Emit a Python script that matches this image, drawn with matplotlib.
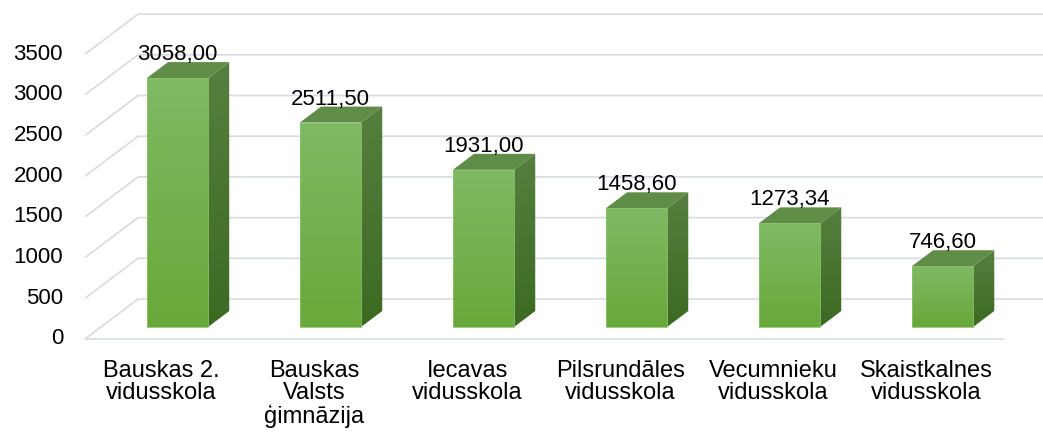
import numpy as np
import matplotlib
matplotlib.use("Agg")
from matplotlib import pyplot as plt
from matplotlib.patches import Polygon
from matplotlib.colors import LinearSegmentedColormap

plt.rcParams['font.family'] = ['Liberation Sans', 'DejaVu Sans']

# data
skolas  = ['Bauskas 2.\nvidusskola', 'Bauskas\nValsts\nģimnāzija', 'Iecavas\nvidusskola',
           'Pilsrundāles\nvidusskola', 'Vecumnieku\nvidusskola', 'Skaistkalnes\nvidusskola']
vertibas = [3058.00, 2511.50, 1931.00, 1458.60, 1273.34, 746.60]
y_ticks  = [0, 500, 1000, 1500, 2000, 2500, 3000, 3500]

# 3d look (depth offset of the back wall, in data units)
DX, DY   = 0.3464, 491.0
T_FRONT  = 0.3
T_BACK   = 0.7
BAR_W    = 0.4
grid_c   = '#d9dbe4'

fig = plt.figure(figsize=(10.43, 4.33), dpi=100)
ax = fig.add_axes([0, 0, 1, 1])
ax.set_axis_off()

xmin, xmax = -1.0556, 5.761
ymin, ymax = -1154.8, 4164.6

# gridlines: side wall diagonal + back wall horizontal
for v in y_ticks:
    ax.plot([-0.5, -0.5 + DX, xmax], [v, v + DY, v + DY], color=grid_c, lw=1.2, zorder=1,
            solid_capstyle='butt')
    ax.annotate(str(v), xy=(-0.5, v), xytext=(-22, 0), textcoords='offset pixels',
                ha='right', va='center', fontsize=16, color='#000000')
# floor front edge
ax.plot([-0.5, 5.5], [0, 0], color=grid_c, lw=1.2, zorder=1)


def grad_poly(pts, c_top, c_bot, z):
    poly = Polygon(pts, closed=True, facecolor='none', edgecolor='none', zorder=z)
    ax.add_patch(poly)
    xs = [p[0] for p in pts]
    ys = [p[1] for p in pts]
    cmap = LinearSegmentedColormap.from_list('g', [c_bot, c_top])
    img = ax.imshow(np.linspace(0, 1, 64).reshape(-1, 1), cmap=cmap, aspect='auto',
                    origin='lower', extent=[min(xs), max(xs), min(ys), max(ys)], zorder=z)
    img.set_clip_path(poly)


for i, v in enumerate(vertibas):
    x0 = i - BAR_W / 2 + T_FRONT * DX
    x1 = x0 + BAR_W
    y0 = T_FRONT * DY
    y1 = v + T_FRONT * DY
    ddx = (T_BACK - T_FRONT) * DX
    ddy = (T_BACK - T_FRONT) * DY
    # side face
    grad_poly([(x1, y0), (x1 + ddx, y0 + ddy), (x1 + ddx, y1 + ddy), (x1, y1)],
              '#567f3f', '#3c6a22', 3)
    # top face
    ax.add_patch(Polygon([(x0, y1), (x1, y1), (x1 + ddx, y1 + ddy), (x0 + ddx, y1 + ddy)],
                         closed=True, facecolor='#5f8d47', edgecolor='none', zorder=3))
    # front face
    grad_poly([(x0, y0), (x1, y0), (x1, y1), (x0, y1)], '#80b964', '#69a83a', 4)
    ax.add_patch(Polygon([(x0, y0), (x1, y0), (x1, y1), (x0, y1)], closed=True,
                         facecolor='none', edgecolor='#8cc36f', lw=0.6, zorder=5))
    # value label
    ax.annotate(f'{v:.2f}'.replace('.', ','), xy=(i + T_FRONT * DX, v + T_BACK * DY),
                xytext=(0, 2), textcoords='offset pixels', ha='center', va='baseline',
                fontsize=16, color='#000000', zorder=6)
    # category label
    ax.annotate(skolas[i], xy=(i, 0), xytext=(0, -21), textcoords='offset pixels',
                ha='center', va='top', fontsize=17, color='#000000', linespacing=1.02)

ax.set_xlim(xmin, xmax)
ax.set_ylim(ymin, ymax)

fig.savefig('out.png', dpi=100)
